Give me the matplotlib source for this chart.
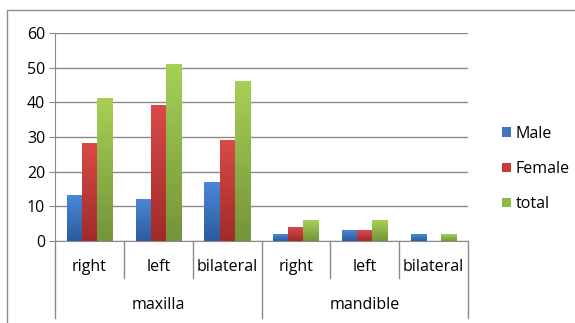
import numpy as np
import matplotlib
matplotlib.use("Agg")
import matplotlib.pyplot as plt
from matplotlib.colors import LinearSegmentedColormap
from matplotlib.patches import Rectangle, Patch
import matplotlib.transforms as mtransforms

plt.rcParams['font.family'] = ['Open Sans', 'DejaVu Sans']
FS = 11.5

# data
groups = ['maxilla', 'mandible']
sides = ['right', 'left', 'bilateral']
male = [13, 12, 17, 2, 3, 2]
female = [28, 39, 29, 4, 3, 0]
total = [41, 51, 46, 6, 6, 2]
series_names = ['Male', 'Female', 'total']

# (top colour, bottom colour) for the gradient fill of each series
shades = [('#4a87d6', '#2b5c9e'),
          ('#d84a47', '#a12b29'),
          ('#a6cf55', '#74953a')]
solid = ['#3f78c2', '#c63c3a', '#8fb947']

fig = plt.figure(figsize=(5.75, 3.23), dpi=100)
fig.patch.set_facecolor('white')

# chart border
fig.patches.append(Rectangle((7 / 575, -0.1), 1.2, 1 - 10 / 323 + 0.1,
                             transform=fig.transFigure, fill=False,
                             edgecolor='#8c8c8c', linewidth=1.0))

ax = fig.add_axes([55 / 575, 1 - 241 / 323, (468 - 55) / 575, (241 - 33) / 323])

x = np.arange(len(male))
w = 0.22
for i, vals in enumerate([male, female, total]):
    bars = ax.bar(x + (i - 1) * w, vals, width=w, facecolor='none', edgecolor='none')
    cmap = LinearSegmentedColormap.from_list('g%d' % i, [shades[i][1], shades[i][0]])
    for b in bars:
        h = b.get_height()
        if h <= 0:
            continue
        grad = np.linspace(1, 0, 50).reshape(-1, 1)
        ax.imshow(grad, cmap=cmap, aspect='auto', vmin=0, vmax=1,
                  extent=(b.get_x(), b.get_x() + b.get_width(), 0, h), zorder=3)

ax.set_xlim(-0.5, len(male) - 0.5)
ax.set_ylim(0, 60)
ax.set_yticks(range(0, 61, 10))
ax.yaxis.grid(True, color='#8a8a8a', linewidth=1.0)
ax.set_axisbelow(True)
for s in ['top', 'right']:
    ax.spines[s].set_visible(False)
ax.spines['left'].set_color('#8a8a8a')
ax.spines['bottom'].set_color('#8a8a8a')
ax.tick_params(axis='y', length=4, color='#8a8a8a', labelsize=FS, pad=3)
ax.set_xticks([])

# two-level category axis
trans = mtransforms.blended_transform_factory(ax.transData, ax.transAxes)
px = 1 / 208
for k in range(len(male) + 1):
    xb = k - 0.5
    depth = 77 if k % 3 == 0 else 37
    ax.plot([xb, xb], [0, -depth * px], transform=trans, color='#8a8a8a',
            linewidth=1.0, clip_on=False)
for k, lab in enumerate(sides * 2):
    ax.text(k, -26 * px, lab, transform=trans, ha='center', va='center', fontsize=FS)
for g, lab in enumerate(groups):
    ax.text(g * 3 + 1, -64 * px, lab, transform=trans, ha='center', va='center',
            fontsize=FS)

handles = [Patch(facecolor=solid[i], edgecolor='none') for i in range(3)]
fig.legend(handles, series_names, loc='center left', bbox_to_anchor=(488 / 575, 1 - 169 / 323),
           frameon=False, fontsize=FS, handlelength=0.55, handleheight=0.55,
           handletextpad=0.3, labelspacing=1.2)

fig.savefig('out.png', dpi=100)
